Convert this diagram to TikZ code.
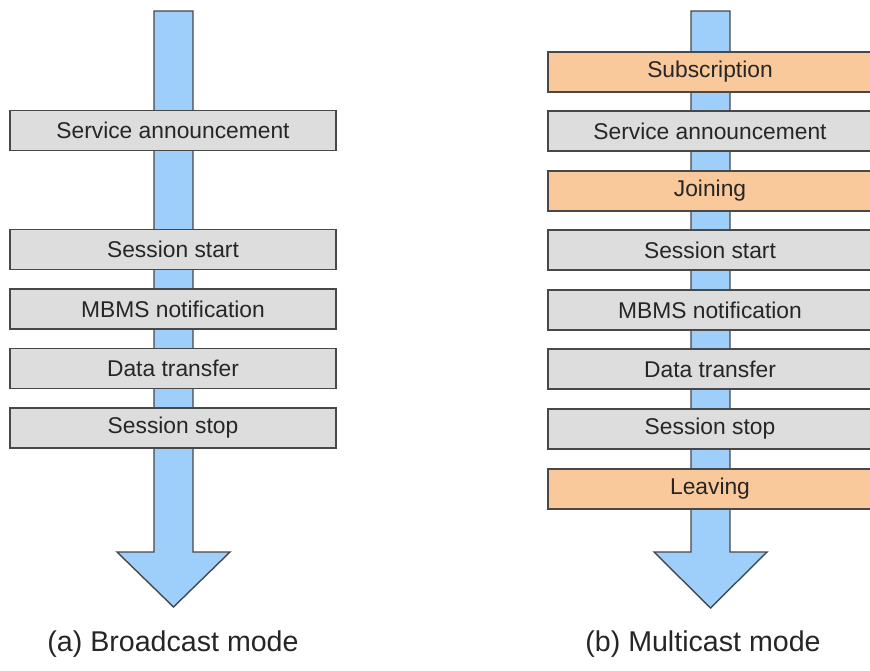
\documentclass[tikz,border=0pt]{standalone}
\usepackage{fontspec}
\setmainfont{Liberation Sans}
\definecolor{flowblue}{RGB}{158,206,250}
\definecolor{boxgray}{RGB}{221,221,221}
\definecolor{boxorange}{RGB}{249,200,155}
\definecolor{edgegray}{RGB}{72,72,72}
\tikzset{
  stagebox/.style={draw=edgegray, line width=1.6pt, fill=boxgray, minimum height=40pt,
    inner sep=0pt, font=\fontsize{22.8}{25}\selectfont, text=black!85},
  leftbox/.style={stagebox, minimum width=326pt},
  rightbox/.style={stagebox, minimum width=324pt},
  orangebox/.style={fill=boxorange},
  flowarrow/.style={draw=edgegray, line width=1.4pt, fill=flowblue, line join=miter},
  caption/.style={font=\fontsize{28.6}{32}\selectfont, text=black!85}
}
\begin{document}
\begin{tikzpicture}[x=1pt, y=-1pt]
\useasboundingbox (0,0) rectangle (870,671);
\clip (0,0) rectangle (870,671);
\fill[white] (0,0) rectangle (870,671);
% left arrow
\draw[flowarrow] (154,11) -- (193,11) -- (193,552) -- (230,552) -- (173.5,607) -- (117,552) -- (154,552) -- cycle;
% right arrow
\draw[flowarrow] (691,11) -- (730,11) -- (730,552) -- (767,552) -- (710.5,608) -- (654,552) -- (691,552) -- cycle;
% left boxes
\node[leftbox] (la) at (173,130.5) {Service announcement};
\node[leftbox] (lb) at (173,249.5) {Session start};
\node[leftbox] (lc) at (173,309) {MBMS notification};
\node[leftbox] (ld) at (173,368.5) {Data transfer};
\node[leftbox] (le) at (173,428) {Session stop};
% right boxes
\node[rightbox, orangebox] (ra) at (710,72) {Subscription};
\node[rightbox] (rb) at (710,131) {Service announcement};
\node[rightbox, orangebox] (rc) at (710,191) {Joining};
\node[rightbox] (rd) at (710,250) {Session start};
\node[rightbox] (re) at (710,310) {MBMS notification};
\node[rightbox] (rf) at (710,369) {Data transfer};
\node[rightbox] (rg) at (710,429) {Session stop};
\node[rightbox, orangebox] (rh) at (710,489) {Leaving};
% captions
\node[caption] (capa) at (173,644) {(a) Broadcast mode};
\node[caption] (capb) at (703,644) {(b) Multicast mode};
\end{tikzpicture}
\end{document}
